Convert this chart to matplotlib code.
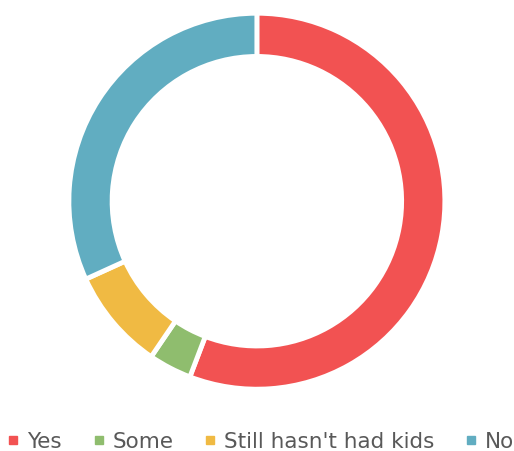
import matplotlib
matplotlib.use("Agg")
import matplotlib.pyplot as plt
from matplotlib.lines import Line2D

categories = ["Yes", "Some", "Still hasn't had kids", "No"]
values = [55.8, 3.7, 8.7, 31.8]
colors = ["#F25252", "#8FBD6E", "#F0BA43", "#61ADC1"]

fig = plt.figure(figsize=(5.14, 4.51), dpi=100)
ax = fig.add_axes([0.134, 0.137, 0.7315, 0.8337])
ax.pie(values, colors=colors, startangle=90, counterclock=False,
       radius=1.0, wedgeprops=dict(width=0.23, edgecolor="white", linewidth=3.5))
ax.set_xlim(-1.0, 1.0)
ax.set_ylim(-1.0, 1.0)
ax.set_aspect("equal")
ax.axis("off")

handles = [Line2D([0], [0], marker="s", linestyle="none", markersize=6,
                  markerfacecolor=c, markeredgecolor=c) for c in colors]
leg = fig.legend(handles, categories, loc="lower center", bbox_to_anchor=(0.508, -0.045),
                 ncol=4, frameon=False, fontsize=15.5, handlelength=0.5,
                 handletextpad=0.4, columnspacing=1.45, labelcolor="#595959")
fig.savefig("out.png", dpi=100)
